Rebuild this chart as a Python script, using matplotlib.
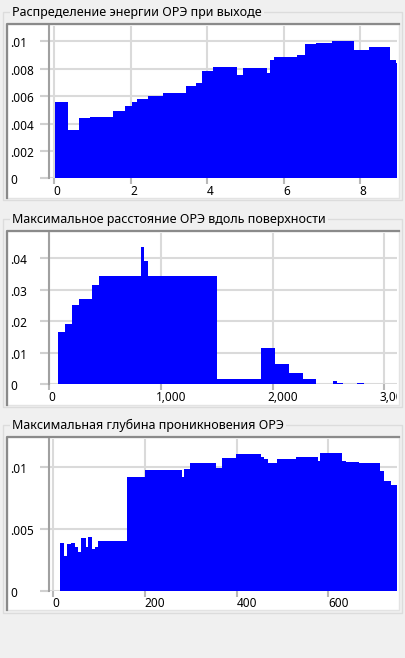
import matplotlib
matplotlib.use('Agg')
import matplotlib.pyplot as plt
from matplotlib.patches import Rectangle
from matplotlib.transforms import blended_transform_factory as blend

plt.rcParams['font.family'] = ['Noto Sans', 'DejaVu Sans']

W, H = 406, 658

# --- data: bin edges and heights ---
titles = ['Распределение энергии ОРЭ при выходе',
          'Максимальное расстояние ОРЭ вдоль поверхности',
          'Максимальная глубина проникновения ОРЭ']

energy_edges = [0.03, 0.36, 0.65, 0.94, 1.55, 1.85, 2.04, 2.16, 2.45, 2.85, 3.44, 3.72,
                3.86, 4.14, 4.77, 4.94, 5.55, 5.64, 5.74, 6.34, 6.55, 6.84, 7.25, 7.84,
                8.23, 8.77, 8.92, 9.2]
energy_vals = [0.00555, 0.00353, 0.00442, 0.0045, 0.0049, 0.0053, 0.00555, 0.00579,
               0.00603, 0.0062, 0.00676, 0.00693, 0.00783, 0.0081, 0.00752, 0.00805,
               0.0077, 0.00864, 0.00883, 0.009, 0.00978, 0.0099, 0.01004, 0.00936,
               0.00956, 0.00861, 0.00844]

dist_edges = [81, 141, 200, 266, 385, 448, 818, 851, 887, 1504, 1893, 2021, 2146, 2269,
              2388, 2543, 2578, 2632, 2752, 2817, 3150]
dist_vals = [0.0165, 0.0191, 0.0251, 0.0271, 0.0315, 0.0343, 0.0437, 0.0391, 0.0343,
             0.0017, 0.0116, 0.0064, 0.0037, 0.0018, 0.0, 0.001, 0.0004, 0.0001,
             0.0004, 0.0001]

depth_edges = [14.6, 23.3, 29, 38, 47, 54.6, 60.4, 70.7, 75, 84.4, 91, 98.2, 161.5, 200,
               280, 286, 298, 355, 369, 398, 452.5, 460, 468, 489, 529.6, 577, 582,
               630.6, 638, 667, 712.8, 721.6, 736, 760]
depth_vals = [0.00384, 0.00284, 0.00378, 0.00387, 0.00357, 0.00316, 0.0043, 0.00357,
              0.00435, 0.00335, 0.00354, 0.00403, 0.00919, 0.00976, 0.00919, 0.00984,
              0.01037, 0.00997, 0.01078, 0.01105, 0.01086, 0.01065, 0.01032, 0.01067,
              0.01086, 0.01049, 0.01118, 0.01049, 0.01043, 0.01037, 0.00968, 0.00892,
              0.00859]

energy_xticks = [0, 2, 4, 6, 8]
energy_xlabels = ['0', '2', '4', '6', '8']
energy_yticks = [0, 0.002, 0.004, 0.006, 0.008, 0.01]
energy_ylabels = ['0', '.002', '.004', '.006', '.008', '.01']

dist_xticks = [0, 1000, 2000, 3000]
dist_xlabels = ['0', '1,000', '2,000', '3,000']
dist_yticks = [0, 0.01, 0.02, 0.03, 0.04]
dist_ylabels = ['0', '.01', '.02', '.03', '.04']

depth_xticks = [0, 200, 400, 600]
depth_xlabels = ['0', '200', '400', '600']
depth_yticks = [0, 0.005, 0.01]
depth_ylabels = ['0', '.005', '.01']

panels = [
    dict(title=titles[0], edges=energy_edges, vals=energy_vals,
         xt=energy_xticks, xl=energy_xlabels, yt=energy_yticks, yl=energy_ylabels,
         box=(12, 200), frame=(24, 198), top=26, base=178.3,
         xlim=(-0.13, 8.955), ylim=0.01112),
    dict(title=titles[1], edges=dist_edges, vals=dist_vals,
         xt=dist_xticks, xl=dist_xlabels, yt=dist_yticks, yl=dist_ylabels,
         box=(219, 407), frame=(231, 405), top=233, base=384.3,
         xlim=(-3, 3113), ylim=0.0480),
    dict(title=titles[2], edges=depth_edges, vals=depth_vals,
         xt=depth_xticks, xl=depth_xlabels, yt=depth_yticks, yl=depth_ylabels,
         box=(425, 613), frame=(437, 610), top=439, base=590.7,
         xlim=(-9.4, 750), ylim=0.01229),
]


def fx(px):
    return px / W


def fy(py):
    return 1 - py / H


fig = plt.figure(figsize=(W / 100, H / 100), dpi=100, facecolor='#f0f0f0')

for p in panels:
    bt, bb = p['box']
    # group box
    fig.patches.append(Rectangle((fx(3.5), fy(bb)), fx(402) - fx(3.5), fy(bt) - fy(bb),
                                 transform=fig.transFigure, fill=False,
                                 edgecolor='#dcdcdc', lw=1, zorder=-3))
    fig.text(fx(12), fy(bt + 0.5), p['title'], fontsize=9, color='#000000',
             ha='left', va='center', zorder=-2,
             bbox=dict(facecolor='#f0f0f0', edgecolor='none', pad=1.5))

    # sunken white frame
    ft, fb = p['frame']
    frame = Rectangle((fx(7), fy(fb)), fx(399) - fx(7), fy(ft) - fy(fb),
                      transform=fig.transFigure, facecolor='white',
                      edgecolor='#e3e3e3', lw=1, zorder=-2)
    fig.patches.append(frame)
    fig.add_artist(plt.Line2D([fx(7), fx(7), fx(399)], [fy(fb), fy(ft), fy(ft)],
                              transform=fig.transFigure, color='#8a8a8a', lw=1.6,
                              zorder=-1))
    # region where tick labels stay visible
    label_clip = Rectangle((fx(7), fy(fb)), fx(397) - fx(7), fy(ft) - fy(fb),
                           transform=fig.transFigure)

    # plot area
    top, base = p['top'], p['base']
    ax = fig.add_axes([fx(49), fy(base), fx(397) - fx(49), fy(top) - fy(base)])
    ax.set_facecolor('none')
    ax.stairs(p['vals'], p['edges'], fill=True, color='#0000ff', zorder=3)
    ax.set_xlim(*p['xlim'])
    ax.set_ylim(0, p['ylim'])
    ax.set_xticks(p['xt'])
    ax.set_yticks(p['yt'])
    ax.grid(True, color='#dadada', lw=1.5, zorder=0)
    ax.set_axisbelow(True)
    ax.tick_params(axis='y', length=6.5, width=1.5, color='#d0d0d0', labelleft=False)
    ax.tick_params(axis='x', length=4, width=1.5, color='#b8b8b8', labelbottom=False)
    for s in ['top', 'right', 'bottom']:
        ax.spines[s].set_visible(False)
    ax.spines['left'].set_color('#a0a0a0')
    ax.spines['left'].set_linewidth(1.5)

    # tick labels placed like the original, clipped by the frame
    x0, x1 = ax.get_xlim()
    sx = (x1 - x0) / (397 - 49)
    for v, lab in zip(p['xt'], p['xl']):
        off = 2.8 if len(lab) == 1 else 10
        t = ax.text(v + off * sx, fy(base + 13), lab, fontsize=8.5,
                    ha='center', va='center',
                    transform=blend(ax.transData, fig.transFigure))
        t.set_clip_on(True)
        t.set_clip_path(label_clip)
    sy = p['ylim'] / (base - top)
    for v, lab in zip(p['yt'], p['yl']):
        t = ax.text(fx(10), v - 2.5 * sy, lab, fontsize=8.5, ha='left', va='center',
                    transform=blend(fig.transFigure, ax.transData))
        t.set_clip_on(True)
        t.set_clip_path(label_clip)

fig.savefig('out.png', dpi=100, facecolor=fig.get_facecolor())
